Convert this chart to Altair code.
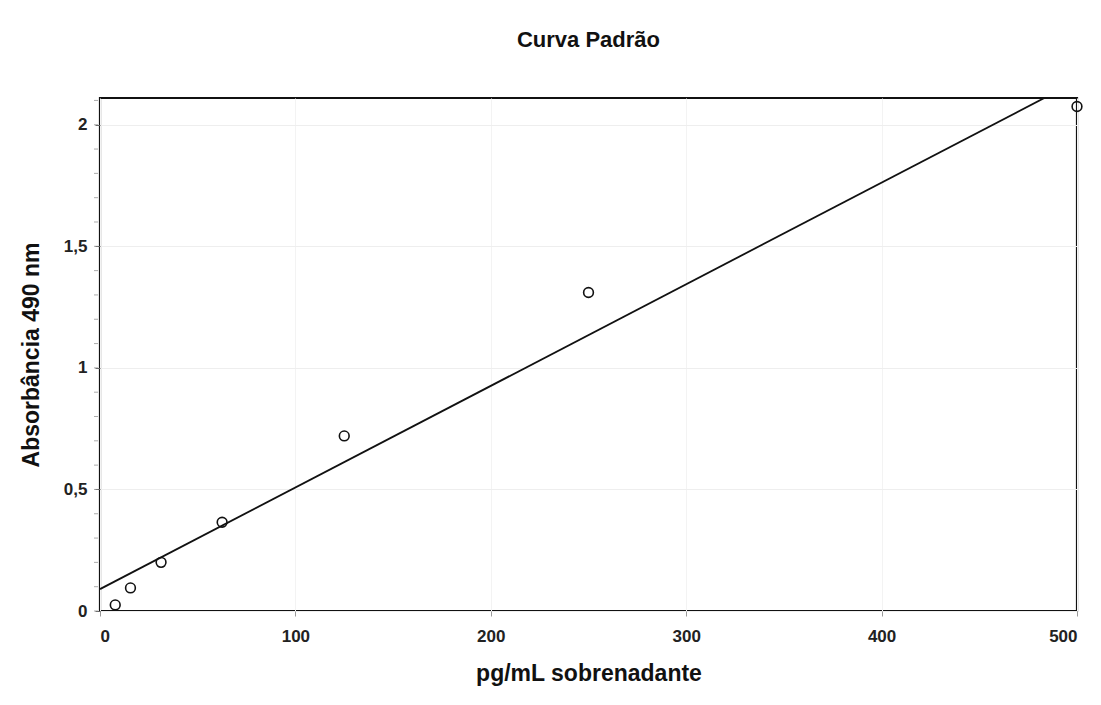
import altair as alt
import pandas as pd

# Data
conc = [7.8, 15.6, 31.25, 62.5, 125, 250, 500]
absorb = [0.025, 0.095, 0.20, 0.365, 0.72, 1.31, 2.075]

fit_x = [0, 500]
fit_y = [0.09, 2.18]

x_ticks = [0, 100, 200, 300, 400, 500]
y_ticks = [0, 0.5, 1, 1.5, 2]
y_minor = [round(i * 0.1, 1) for i in range(0, 22)]

pts = pd.DataFrame({"x": conc, "y": absorb})
fit = pd.DataFrame({"x": fit_x, "y": fit_y})
minor = pd.DataFrame({"y": y_minor})

FONT = "Liberation Sans"

xscale = alt.Scale(domain=[0, 500], nice=False, zero=False)
yscale = alt.Scale(domain=[0, 2.11], nice=False, zero=False)

x_axis = alt.Axis(
    title="pg/mL sobrenadante", values=x_ticks, grid=True, gridColor="#f3f3f3",
    labelFont=FONT, labelFontSize=17, labelFontWeight="bold", labelColor="#222",
    labelPadding=12, tickColor="#999", tickSize=5,
    titleFont=FONT, titleFontSize=23, titleFontWeight="bold", titleColor="#111",
    titlePadding=18, domain=False,
)
y_axis = alt.Axis(
    title="Absorbância 490 nm", values=y_ticks, grid=True, gridColor="#eeeeee",
    labelExpr="replace(format(datum.value, ''), '.', ',')",
    labelFont=FONT, labelFontSize=17, labelFontWeight="bold", labelColor="#222",
    labelPadding=8, tickColor="#666", tickSize=5,
    titleFont=FONT, titleFontSize=23, titleFontWeight="bold", titleColor="#111",
    titlePadding=20, domain=False,
)

line = alt.Chart(fit).mark_line(color="#111", strokeWidth=1.8, clip=True).encode(
    x=alt.X("x:Q", scale=xscale, axis=x_axis),
    y=alt.Y("y:Q", scale=yscale, axis=y_axis),
)

points = alt.Chart(pts).mark_point(
    shape="circle", filled=False, color="#111", size=95, strokeWidth=1.6, opacity=1
).encode(
    x=alt.X("x:Q", scale=xscale),
    y=alt.Y("y:Q", scale=yscale),
)

minor_ticks = alt.Chart(minor).mark_tick(
    color="#888", thickness=1, size=4
).encode(
    x=alt.value(-4),
    y=alt.Y("y:Q", scale=yscale),
)

chart = alt.layer(line, points, minor_ticks).properties(
    width=977,
    height=513,
    background="white",
    title=alt.TitleParams(
        "Curva Padrão", font=FONT, fontSize=22, fontWeight="bold", color="#111",
        anchor="middle", offset=46,
    ),
    padding={"left": 100, "top": 98, "right": 24, "bottom": 94},
    autosize=alt.AutoSizeParams(type="none"),
).configure_view(
    stroke="#111", strokeWidth=2.2
)

chart.save("out.html", embed_options={"renderer": "svg", "actions": False})
